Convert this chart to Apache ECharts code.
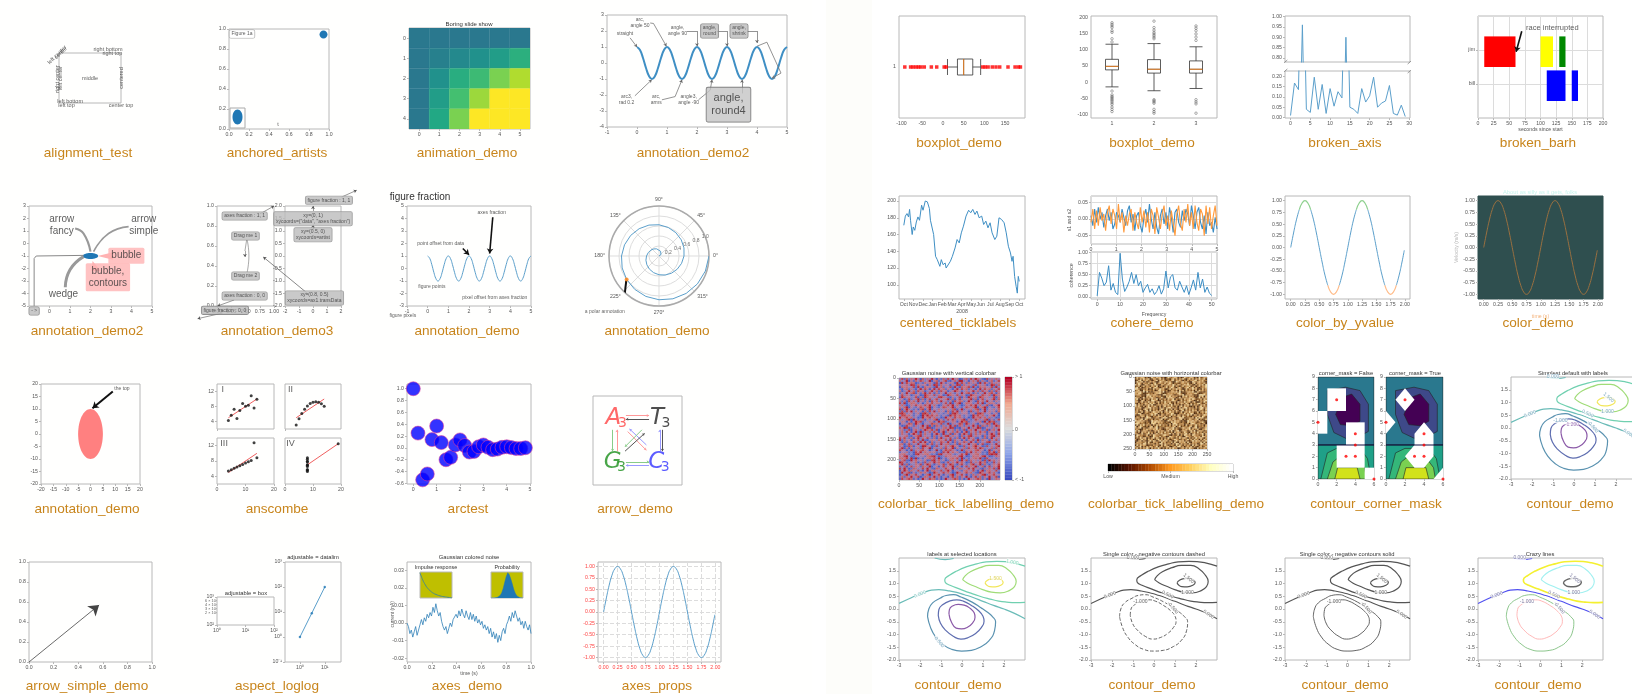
<!DOCTYPE html>
<html lang="en">
<head>
<meta charset="UTF-8">
<title>gallery</title>
<script src="https://cdn.jsdelivr.net/npm/echarts@6/dist/echarts.min.js"></script>
<style>
html,body{margin:0;padding:0;background:#fff;overflow:hidden}
#main{width:1632px;height:694px;filter:blur(0.65px)}
</style>
</head>
<body>
<div id="main"></div>
<script>
// ---- data ----
var cosT = [0,.1,.2,.3,.4,.5,.6,.7,.8,.9,1,1.1,1.2,1.3,1.4,1.5,1.6,1.7,1.8,1.9,2,2.1,2.2,2.3,2.4,2.5,2.6,2.7,2.8,2.9,3,3.1,3.2,3.3,3.4,3.5,3.6,3.7,3.8,3.9,4,4.1,4.2,4.3,4.4,4.5,4.6,4.7,4.8,4.9,5];
var cosV = [1,.81,.31,-.31,-.81,-1,-.81,-.31,.31,.81,1,.81,.31,-.31,-.81,-1,-.81,-.31,.31,.81,1,.81,.31,-.31,-.81,-1,-.81,-.31,.31,.81,1,.81,.31,-.31,-.81,-1,-.81,-.31,.31,.81,1,.81,.31,-.31,-.81,-1,-.81,-.31,.31,.81,1];
var sineT = [0,.05,.1,.15,.2,.25,.3,.35,.4,.45,.5,.55,.6,.65,.7,.75,.8,.85,.9,.95,1,1.05,1.1,1.15,1.2,1.25,1.3,1.35,1.4,1.45,1.5,1.55,1.6,1.65,1.7,1.75,1.8,1.85,1.9,1.95,1.99];
var sineV = [0,.31,.59,.81,.95,1,.95,.81,.59,.31,0,-.31,-.59,-.81,-.95,-1,-.95,-.81,-.59,-.31,0,.31,.59,.81,.95,1,.95,.81,.59,.31,0,-.31,-.59,-.81,-.95,-1,-.95,-.81,-.59,-.31,-.06];

var slideRows = [[.4,.4,.4,.4,.4,.4],[.4,.43,.47,.5,.55,.63],[.4,.5,.62,.68,.8,.88],[.4,.55,.7,.85,1,1],[.4,.6,.8,1,1,1]];

var polarR = [0,.025,.05,.075,.1,.125,.15,.175,.2,.225,.25,.275,.3,.325,.35,.375,.4,.425,.45,.475,.5,.525,.55,.575,.6,.625,.65,.675,.7,.725,.75,.775,.8,.825,.85,.875,.9,.925,.95,.975,1];
var polarA = [0,18,36,54,72,90,108,126,144,162,180,198,216,234,252,270,288,306,324,342,360,18,36,54,72,90,108,126,144,162,180,198,216,234,252,270,288,306,324,342,360];

var ansX = [10,8,13,9,11,14,6,4,12,7,5];
var ansI = [8.04,6.95,7.58,8.81,8.33,9.96,7.24,4.26,10.84,4.82,5.68];
var ansII = [9.14,8.14,8.74,8.77,9.26,8.10,6.13,3.10,9.13,7.26,4.74];
var ansIII = [7.46,6.77,12.74,7.11,7.81,8.84,6.08,5.39,8.15,6.42,5.73];
var ansIVx = [8,8,8,8,8,8,8,19,8,8,8];
var ansIV = [6.58,5.76,7.71,8.84,8.47,7.04,5.25,12.5,5.56,7.91,6.89];

var arcT = [0,.2,.4,.6,.8,1,1.2,1.4,1.6,1.8,2,2.2,2.4,2.6,2.8,3,3.2,3.4,3.6,3.8,4,4.2,4.4,4.6,4.8];
var arcV = [1,.25,-.54,-.44,.14,.37,.09,-.2,-.16,.05,.135,.04,-.07,-.06,.02,.05,.01,-.03,-.02,.01,.02,.005,-.01,-.01,.003];

var noiseV = [0,-.002,-.006,-.004,-.008,-.005,-.002,-.007,-.004,-.001,.002,-.001,.003,.001,.005,.003,.006,.004,.009,.006,.011,.007,.004,.006,.001,-.002,-.004,-.002,-.006,-.003,0,-.002,.002,.001,.005,.003,.007,.004,.008,.005,.003,.007,.004,.002,.006,.002,.005,.001,.004,0,.002,-.001,.001,-.003,-.001,-.004,-.002,-.006,-.003,-.008,-.005,-.009,-.006,-.011,-.007,-.01,-.005,-.003,-.006,-.001,.001,.004,.001,.006,.003,.007,.004,.001,.003,-.001,.001,-.003,.001,-.002,-.004,-.001,-.006];
var impulseV = [1,.72,.52,.37,.27,.19,.14,.1,.07,.05,.035,.02,.01];
var probV = [0,0,0,.01,.02,.04,.1,.2,.38,.62,.85,1,.92,.75,.55,.33,.18,.08,.03,.01,0,0];
var axLogY = [1,9,100];
var axLogX = [1,3,10];

var boxH = [[11,35,50,72,91]];
var boxHOut = [-92,-78,-72,-65,-59,-53,-45,-28,-15,3,8,96,102,109,119,128,137,157,174,182,187];
var boxCats = ['1','2','3'];
var boxV = [[-15,38,49,71,118],[-27,28,40,70,120],[-20,28,40,66,110]];
var boxOut1 = [-28,-40,-45,-48,-52,-56,-60,-65,-70,-78,-85,-92,125,135,155,160,170,175,180,185];
var boxOut2 = [-55,-58,-62,-66,-85,-92,-97,135,140,145,150,155,162,170,190];
var boxOut3 = [-55,-62,-68,-97,130,140,150,160,168,175];

var brokenV = [.01,.167,.135,.96,.04,.025,.195,.04,.16,.02,.14,.055,.125,.095,.9,.05,.04,.02,.14,.075,.105,.195,.05,.07,.08,.155,.02,.012,.06,.005];
var barhJim = [[10,50],[100,20],[130,10]];
var barhBill = [[110,30],[150,10]];
var monthNames = ['Oct','Nov','Dec','Jan','Feb','Mar','Apr','May','Jun','Jul','Aug','Sep','Oct'];
var priceT = [0,.16,.33,.49,.6,.7,.87,.98,1.14,1.3,1.47,1.63,1.85,2,2.23,2.45,2.66,2.77,2.93,3.1,3.3,3.48,3.64,3.75,3.9,4.08,4.3,4.4,4.6,4.84,5.05,5.33,5.54,5.76,5.98,6.2,6.47,6.74,6.96,7.17,7.4,7.6,7.83,8.1,8.3,8.53,8.75,8.97,9.18,9.46,9.67,9.9,10.16,10.43,10.65,10.87,11.09,11.25,11.36,11.52,11.68,11.8,11.9,12];
var priceV = [171,182,185,181,190,177,160,169,165,175,181,177,195,189,200,199,191,177,179,160,134,130,131,122,130,124,126,120,122,128,134,144,154,150,162,170,182,189,186,190,184,188,180,182,172,176,168,174,162,154,158,180,178,174,162,146,138,128,134,110,98,90,110,104];

var cohereA = [.01,-.02,.03,-.01,.035,0,.02,-.025,.01,.03,-.005,.02,-.03,-.015,.02,.01,-.01,.03,.005,-.02,.025,.04,-.01,.015,-.035,.01,.02,-.02,-.04,.005,.03,-.01,.045,0,-.03,.02,-.025,-.045,.01,.03,-.015,.02,-.03,.035,.005,-.04,.02,.03,-.01,-.025,.025,-.005,.03,.015,-.02,.04,.01,-.03,.02,.035,-.01,-.03,.01,-.045,.02,-.02,-.01,-.04,.005,-.03];
var cohereB = [-.01,.03,-.03,.025,-.02,.035,-.005,.015,-.035,.02,.04,-.015,.03,.01,-.03,.045,-.01,.02,-.04,.01,-.02,.015,.03,-.035,.02,-.01,-.03,.035,-.01,.025,-.025,.02,-.04,.03,.01,-.045,.035,.005,-.03,.015,.04,-.02,.01,-.035,.025,.03,-.05,.015,.04,-.015,-.035,.03,-.01,.045,-.02,.02,-.03,.04,-.01,-.035,.03,.015,-.05,.04,-.015,.035,-.03,.01,.04,-.02];
var cohFreq = [0,1,2,3,4,5,6,7,8,9,10,11,12,13,14,15,16,17,18,19,20,21,22,23,24,25,26,27,28,29,30,31,32,33,34,35,36,37,38,39,40,41,42,43,44,45,46,47,48,49,50];
var cohVal = [.02,.55,.42,.25,.33,.7,.15,.3,.1,.05,.98,.4,.12,.22,.35,.55,.3,.5,.25,.35,.1,.2,.28,.1,.18,.05,.12,.25,.06,.18,.58,.2,.45,.5,.2,.15,.35,.22,.1,.25,.05,.2,.38,.15,.55,.2,.4,.1,.22,.08,.03];

var noiseRows = [
'38172649507263940517283946015728396410825374','92504738162057138624905173862490571368104729','17463082951364092851736409285173640928576013',
'60298173546298173540629817354062981735418263','43819207568192075643819207564381920756209471','71620493850493857162049385716204938571638205',
'25937184607184602593718460259371846025974136','84061529373152937840615293784061529378051692','19753826402640197538264019753826401975328647',
'52380619746197452380619745238061974523896410','36917048258253691704825369170482536917540281','08472935163516084729351608472935160847613952',
'65148290379037651482903765148290376514027483','93720164856485937201648593720164859372481056','21486379057905214863790521486379052148736915',
'78059143624362780591436278059143627805962140','49263507181849263507184926350718492635081472','13608972455136089724513608972451360897164523',
'85731420969685731420968573142096857314693028','30195684727230195684723019568472301956285741','62479051383862479051386247905138624790951360',
'97812365040497812365049781236504978123547092','05348719626205348719620534871962053487628139','51624938070751624938075162493807516249730185',
'74980153262674980153267498015326749801046392','28057394616128057394612805739461280573159748','16372840591916372840591637284059163728470635',
'40596182737340596182734059618273405961923807','89263407151589263407158926340715892634571046','31705926484831705926483170592648317059284610',
'64829173505064829173506482917350648291036527','07153862949407153862940715386294071538941263','52936704810152936704815293670481529367126084',
'96401825373796401825379640182537964018705319','23718459060623718459062371845906237184683972','78540291636378540291637854029163785402392058',
'12085937464612085937461208593746120859071436','45673120898945673120894567312089456731248590','89301275646489301275648930127564893012534167',
'31467582909031467582903146758290314675910832','26094817352608194735268109473526018947250176','70318264957103826495730182649570318269841253',
'59172036485917023648159720364815972068314792','04826591730482659137048265913704826517629035','83950176248395107624853951762485935106274819',
'16743820591674382059617438205916743826950342','47201963584720196358472109635847201936805127','91658340279165834027916583042791658304172658',
'30582716493058271649358027164935802761492603','68714029538671402953687140295368714092375184'];
var barSteps = [0,.25,.5,.75,1,1.25,1.5,1.75,2,2.25,2.5,2.75,3,3.25,3.5,3.75,4,4.25,4.5,4.75,5,5.25,5.5,5.75,6,6.25,6.5,6.75,7,7.25,7.5,7.75,8,8.25,8.5,8.75,9];

// contour levels, traced by eye in x/y
var cNeg15 = [[-.62,-.2],[-.6,-.02],[-.45,.12],[-.18,.18],[.1,.15],[.38,.03],[.58,-.15],[.62,-.32],[.5,-.55],[.25,-.72],[-.02,-.78],[-.28,-.75],[-.5,-.52],[-.62,-.2]];
var cNeg10 = [[-1.13,-.25],[-1.1,-.02],[-.95,.15],[-.57,.32],[-.25,.36],[.06,.31],[.45,.14],[.78,-.06],[1,-.28],[1.05,-.48],[.92,-.73],[.65,-.96],[.3,-1.12],[-.05,-1.18],[-.4,-1.08],[-.8,-.82],[-1.03,-.55],[-1.13,-.25]];
var cNeg05 = [[-1.64,-.3],[-1.58,0],[-1.4,.24],[-1.05,.42],[-.76,.53],[-.4,.56],[-.05,.47],[.48,.27],[.9,.05],[1.2,-.12],[1.45,-.3],[1.6,-.5],[1.55,-.85],[1.28,-1.25],[.86,-1.5],[.45,-1.62],[-.02,-1.65],[-.5,-1.58],[-.89,-1.4],[-1.25,-1.1],[-1.5,-.72],[-1.64,-.3]];
var cZero = [[-3,.22],[-2.6,.37],[-2.2,.52],[-1.8,.65],[-1.45,.74],[-1.1,.76],[-.7,.72],[-.25,.65],[.12,.56],[.5,.46],[1,.3],[1.5,.14],[2,0],[2.5,-.17],[3,-.38]];
var cPos05 = [[3,1.68],[2.45,1.81],[2.05,1.86],[1.66,1.87],[1.15,1.85],[.7,1.77],[.2,1.65],[-.25,1.49],[-.6,1.32],[-.82,1.15],[-.8,1.05],[-.57,.93],[-.1,.78],[.38,.63],[.85,.5],[1.34,.39],[1.75,.31],[2.13,.27],[2.55,.25],[3,.26]];
var cPos10 = [[.03,1.15],[.13,1.28],[.4,1.46],[.86,1.62],[1.3,1.71],[1.75,1.71],[2.15,1.57],[2.45,1.32],[2.58,1.08],[2.5,.88],[2.25,.72],[1.82,.63],[1.4,.66],[1.02,.75],[.6,.89],[.25,1.02],[.03,1.15]];
var cPos15 = [[1.1,1.03],[1.2,1.12],[1.42,1.19],[1.66,1.2],[1.88,1.14],[1.96,1.04],[1.85,.93],[1.58,.87],[1.32,.88],[1.16,.95],[1.1,1.03]];
var cTop = [[-1.3,2],[-.8,1.94],[-.4,1.98]];

var cornerBlue = [[2.95,8.1],[4.5,7.8],[5.4,6.6],[5.4,4.2],[4.5,3.8],[2.95,3.6],[1.7,4.1],[1,5.7],[1,7.8]];
var cornerPurple = [[2.6,7.2],[3.6,7.5],[4.5,6.6],[4.5,5.1],[3.6,4.7],[2.4,4.8],[1.9,5.7]];
var cornerGreen1 = [[.3,0],[1,2.3],[2,2.7],[4.5,2.7],[5.3,1.8],[5.7,0]];
var cornerGreen2 = [[1,0],[1.6,1.5],[2.2,1.9],[4.2,1.9],[5,1],[5.2,0]];
var cornerYellow = [[1.8,0],[2.1,1],[4.2,1],[4.5,0]];
var maskSquare = [[[1,6],[3,6],[3,8],[1,8]],[[0,4],[1,4],[1,6],[0,6]],[[3,3],[5,3],[5,5],[3,5]],[[2,1],[5,1],[5,3],[2,3]],[[5,0],[6,0],[6,1],[5,1]]];
var maskCut = [[[1,7],[2,8],[3,7],[2,6]],[[0,4],[1,5],[0,6]],[[4,5],[3,4],[3,3],[2,2],[3,1],[4,1],[5,2],[5,4]],[[5,0],[6,0],[6,1]]];
var maskedPts = [[2,7],[0,5],[4,4],[4,3],[4,2],[3,2],[6,0]];

// arrow_demo letters and arrows
var dnaLetters = ['A','T','G','C'];
var dnaPos = [[.23,.75],[.72,.75],[.22,.26],[.71,.26]];
var dnaArrows = [[[.37,.78],[.63,.78]],[[.63,.74],[.37,.74]],[[.37,.26],[.63,.26]],[[.63,.22],[.37,.22]],[[.22,.62],[.22,.38]],[[.27,.38],[.27,.62]],[[.75,.38],[.75,.62]],[[.78,.62],[.78,.38]],[[.39,.6],[.6,.39]],[[.6,.45],[.41,.63]],[[.55,.62],[.36,.43]],[[.36,.38],[.58,.58]]];

// ---- plumbing ----
var grid = [], xAxis = [], yAxis = [], series = [], title = [], visualMap = [];
var TICK = '#555', FRAME = '#b8b8b8', FONT = 'Liberation Sans';

function zip(xs, ys) { return xs.map(function (x, i) { return [x, ys[i]]; }); }
function steps(n, d) { var a = []; for (var i = 0; i < n; i++) a.push(i * d); return a; }

function axis(o, k, g) {
    var a = {gridIndex: g, axisLine: {show: false, onZero: false}, splitLine: {show: false}};
    var ticks = o[k + 't'], col = o.tickColor || TICK, f = o[k + 'f'], d = o[k + 'd'];
    if (o[k + 'cat']) {
        a.type = 'category'; a.data = o[k + 'cat'];
        a.axisTick = {length: 2, alignWithLabel: true, lineStyle: {color: FRAME}};
        a.axisLabel = {fontSize: 5.2, color: col, margin: 3, fontFamily: FONT};
    } else {
        a.type = o[k + 'log'] ? 'log' : 'value';
        if (o[k + 'log']) a.logBase = 10;
        a.min = o[k][0]; a.max = o[k][1];
        if (ticks) {
            a.axisTick = {length: 2, customValues: ticks, lineStyle: {color: FRAME}};
            a.axisLabel = {fontSize: 5.2, color: col, margin: 3, fontFamily: FONT, customValues: ticks,
                formatter: f || function (v) { return d === undefined ? String(v) : v.toFixed(d); }};
        } else {
            a.axisTick = {show: false}; a.axisLabel = {show: false};
        }
    }
    if (o.split) a.splitLine = {show: true, lineStyle: {color: '#dcdcdc', width: 1, type: o.split}};
    if (o[k + 'inv']) a.inverse = true;
    if (o[k + 'name']) {
        a.name = o[k + 'name']; a.nameLocation = 'middle'; a.nameGap = o.nameGap || 9;
        a.nameTextStyle = {fontSize: 5.2, color: o[k + 'nameColor'] || '#555', fontFamily: FONT};
    }
    if (o[k + 'pos']) a.position = o[k + 'pos'];
    return a;
}

function panel(l, t, r, b, o) {
    var g = grid.length;
    grid.push({left: l, top: t, width: r - l, height: b - t, show: true, containLabel: false, outerBoundsMode: 'none',
        borderColor: o.frame || FRAME, borderWidth: 1, backgroundColor: o.bg || 'transparent'});
    xAxis.push(axis(o, 'x', g));
    yAxis.push(axis(o, 'y', g));
    return g;
}
function add(s, g) {
    s.xAxisIndex = g; s.yAxisIndex = g; s.silent = true; s.animation = false;
    series.push(s);
    return series.length - 1;
}
function line(g, data, color, width, o) {
    o = o || {};
    return add({type: 'line', data: data, showSymbol: false, smooth: o.smooth || false, clip: o.clip !== false, z: o.z || 3,
        lineStyle: {color: color, width: width, type: o.dash || 'solid', opacity: o.op === undefined ? 1 : o.op}, areaStyle: o.area}, g);
}
function dots(g, data, color, size, o) {
    o = o || {};
    return add({type: 'scatter', data: data, symbol: o.symbol || 'circle', symbolSize: size, clip: o.clip !== false, z: o.z || 4,
        itemStyle: {color: color, borderColor: o.border, borderWidth: o.border ? .7 : 0}}, g);
}
function note(g, x, y, text, o) {
    o = o || {};
    var sz = o.size || 5;
    return add({type: 'scatter', data: [[x, y]], symbolSize: 1, clip: false, z: 6, itemStyle: {color: 'transparent'},
        label: {show: true, position: 'inside', formatter: text, fontSize: sz, color: o.color || '#333', fontFamily: o.font || FONT,
            fontStyle: o.style || 'normal', rotate: o.rot || 0, lineHeight: sz * 1.2, backgroundColor: o.box, borderColor: o.edge, borderWidth: o.edge ? .6 : 0,
            borderRadius: o.box ? 1.5 : 0, padding: o.box ? (o.pad === undefined ? [1, 2] : o.pad) : 0}}, g);
}
function arrow(g, pts, color, width, head) {
    var last = pts.slice(-2);
    function seg(p, sym) {
        add({type: 'lines', coordinateSystem: 'cartesian2d', polyline: p.length > 2, data: [{coords: p}], clip: false, z: 5,
            lineStyle: {color: color, width: width, opacity: 1}, symbol: sym, symbolSize: head || 3}, g);
    }
    if (pts.length > 2) seg(pts.slice(0, -1), 'none');
    seg(last, ['none', 'arrow']);
}
function shapes(g, polys, fills, stroke, lw, dash) {
    return add({type: 'custom', coordinateSystem: 'cartesian2d', clip: true, z: 2, data: polys.map(function (p, i) { return [i]; }),
        renderItem: function (params, api) {
            var i = api.value(0);
            return {type: 'polygon', shape: {points: polys[i].map(function (p) { return api.coord(p); })},
                style: {fill: Array.isArray(fills) ? fills[i] : fills, stroke: stroke || null, lineWidth: lw || 0, lineDash: dash}};
        }}, g);
}
function ellipses(g, list, color) {
    return add({type: 'custom', coordinateSystem: 'cartesian2d', clip: false, z: 3, data: list.map(function (p, i) { return [i]; }),
        renderItem: function (params, api) {
            var e = list[api.value(0)], c = api.coord([e[0], e[1]]), s = api.size([e[2], e[3]]);
            return {type: 'ellipse', shape: {cx: c[0], cy: c[1], rx: s[0] / 2, ry: s[1] / 2}, style: {fill: color}};
        }}, g);
}
// matrix of values drawn as cells, colours come from a visualMap
function cells(g, rows, dx, dy, x0, y0, colors, vmax) {
    var data = [];
    rows.forEach(function (row, r) {
        var vals = typeof row === 'string' ? row.split('').map(Number) : row;
        vals.forEach(function (v, c) { data.push([x0 + c * dx, y0 + r * dy, v]); });
    });
    var idx = add({type: 'custom', coordinateSystem: 'cartesian2d', clip: true, z: 2, data: data, encode: {x: 0, y: 1},
        renderItem: function (params, api) {
            var a = api.coord([api.value(0), api.value(1)]), b = api.coord([api.value(0) + dx, api.value(1) + dy]);
            var c = api.visual('color');
            return {type: 'rect', shape: {x: Math.min(a[0], b[0]), y: Math.min(a[1], b[1]), width: Math.abs(b[0] - a[0]), height: Math.abs(b[1] - a[1])},
                style: {fill: c, stroke: c, lineWidth: .3}};
        }}, g);
    visualMap.push({type: 'continuous', show: false, seriesIndex: idx, dimension: 2, min: 0, max: vmax, inRange: {color: colors}});
}
function text(x, y, s, size, color, o) {
    o = o || {};
    title.push({text: s, left: x, top: y, textAlign: o.align || 'center', textVerticalAlign: 'middle', padding: 0,
        textStyle: {fontSize: size, color: color, fontWeight: 'normal', fontFamily: o.font || FONT}});
}
function caption(x, y, s) { text(x, y, s, 13.6, '#c8851c', {font: 'Liberation Sans'}); }

var oneTicks = [0, .2, .4, .6, .8, 1];
var BLUE = '#5b9fcb', VIRIDIS = ['#440154','#482475','#414487','#355f8d','#2a788e','#21918c','#22a884','#44bf70','#7ad151','#bddf26','#fde725'];
var g;

// the texture rows line up badly in columns, rotate each one
var speckle = noiseRows.map(function (s, r) { var k = (r * 17) % s.length; return s.slice(k) + s.slice(0, k); });

// ---- left half, row 1 ----
g = panel(59, 53, 121, 103, {x: [0, 1], y: [0, 1]});
note(g, .79, 1.08, 'right bottom', {size: 5.5}); note(g, .86, 1.0, 'right top', {size: 5.5});
note(g, .5, .5, 'middle', {size: 5.5});
note(g, .18, .04, 'left bottom', {size: 5.5}); note(g, .12, -.04, 'left top', {size: 5.5});
note(g, 1, -.04, 'center top', {size: 5.5});
note(g, -.03, .96, 'left center', {size: 5.5, rot: 45}); note(g, .03, 1.0, 'center', {size: 5.5, rot: 45});
note(g, -.03, .48, 'right center', {size: 5.5, rot: 90}); note(g, .03, .5, 'left center', {size: 5.5, rot: 90});
note(g, 1, .5, 'centered', {size: 5.5, rot: 90});
caption(88, 153, 'alignment_test');

g = panel(229, 29, 329, 129, {x: [0, 1], y: [0, 1], xt: oneTicks, yt: oneTicks, xd: 1, yd: 1});
shapes(g, [[[.01, .01], [.16, .01], [.16, .21], [.01, .21]]], 'none', '#aaa', 1);
ellipses(g, [[.085, .12, .1, .15], [.945, .945, .08, .08]], '#1f77b4');
note(g, .13, .95, 'Figure 1a', {box: '#fff', edge: '#999'});
note(g, .49, .05, 't', {size: 5.5});
caption(277, 153, 'anchored_artists');

g = panel(409, 28, 530, 129, {x: [-.5, 5.5], y: [-.5, 4.5], xt: [0, 1, 2, 3, 4, 5], yt: [0, 1, 2, 3, 4], yinv: true});
cells(g, slideRows, 1, 1, -.5, -.5, VIRIDIS, 1);
text(469, 24, 'Boring slide show', 6, '#333');
caption(467, 153, 'animation_demo');

g = panel(607, 15, 787, 127, {x: [-1, 5], y: [-4, 3], xt: [-1, 0, 1, 2, 3, 4, 5], yt: [-4, -3, -2, -1, 0, 1, 2, 3]});
line(g, zip(cosT, cosV), '#3f8fc4', 2, {smooth: true});
note(g, .1, 2.5, 'arc,\nangle 50'); note(g, -.4, 1.85, 'straight'); note(g, 1.35, 2, 'angle,\nangle 90');
note(g, 2.42, 2, 'angle,\nround', {box: '#bbb', edge: '#666'}); note(g, 3.4, 2, 'angle,\nshrink', {box: '#bbb', edge: '#666'});
note(g, -.35, -2.3, 'arc3,\nrad 0.2'); note(g, .64, -2.3, 'arc,\narms'); note(g, 1.72, -2.3, 'angle3,\nangle -90');
note(g, 3.05, -2.6, 'angle,\nround4', {size: 11, box: '#c4c4c4', edge: '#555', pad: [4, 5]});
arrow(g, [[-.23, 1.57], [0, 1]], '#666', .7);
arrow(g, [[.44, 2.5], [.55, 2.47], [.98, 1.05]], '#666', .7);
arrow(g, [[1.66, 2], [2, 2], [2, 1.05]], '#666', .7);
arrow(g, [[2.66, 2], [3, 2], [3, 1.05]], '#666', .7);
arrow(g, [[3.67, 2], [4, 2], [4, 1.25]], '#666', .7);
arrow(g, [[-.07, -2.05], [.49, -1.05]], '#666', .7);
arrow(g, [[.83, -2.3], [1.27, -2.1], [1.5, -1.05]], '#666', .7);
arrow(g, [[2.05, -2.3], [2.44, -1.7], [2.5, -1.05]], '#666', .7);
arrow(g, [[3.5, -1.9], [3.5, -1.05]], '#666', .7);
arrow(g, [[4, 1.05], [4.33, 1.3], [4.8, -.63], [4.5, -.95]], '#777', .8);
caption(693, 153, 'annotation_demo2');

// ---- left half, row 2 ----
g = panel(29, 206, 152, 306, {x: [-1, 5], y: [-5, 3], xt: [0, 1, 2, 3, 4, 5], yt: [-5, -4, -3, -2, -1, 0, 1, 2, 3]});
line(g, [[1.25, 1.2], [1.66, .8], [2, -.65]], '#999', 2.2, {smooth: true, clip: false});
line(g, [[3.86, 1.35], [2.88, .8], [2.15, -.65]], '#999', 1.6, {smooth: true, clip: false});
line(g, [[.77, -3.5], [1, -2.1], [1.66, -1.05]], '#999', 3, {smooth: true, clip: false});
line(g, [[-.75, -5], [-.75, -1.2], [-.65, -1], [1.66, -.95]], '#888', 1, {clip: false});
shapes(g, [[[2.35, -1], [3.1, -.7], [3.1, -1.3]], [[2.1, -1.4], [2.05, -2.2], [2.5, -2.2]]], '#ffb3b3');
ellipses(g, [[2, -1, .75, .48]], '#1f77b4');
note(g, .6, 1.5, 'arrow\nfancy', {size: 10}); note(g, 4.6, 1.5, 'arrow\nsimple', {size: 10});
note(g, 3.75, -.97, 'bubble', {size: 10, box: '#ffb3b3', pad: [2, 3]});
note(g, 2.85, -2.7, 'bubble,\ncontours', {size: 10, box: '#ffb3b3', pad: [2, 3]});
note(g, .68, -4.05, 'wedge', {size: 10});
note(g, -.75, -5.4, '- >', {box: '#bbb', edge: '#777'});
caption(87, 331, 'annotation_demo2');

g = panel(217, 206, 274, 306, {x: [0, 1], y: [0, 1], xt: [0, .25, .5, .75, 1], yt: oneTicks, xd: 2, yd: 1});
note(g, .485, .9, 'axes fraction : 1, 1', {box: '#bbb', edge: '#888'});
note(g, .5, .7, 'Drag me 1', {box: '#bbb', edge: '#888'}); note(g, .5, .3, 'Drag me 2', {box: '#bbb', edge: '#888'});
note(g, .485, .1, 'axes fraction : 0, 0', {box: '#bbb', edge: '#888'});
note(g, .14, -.043, 'figure fraction : 0, 0', {box: '#bbb', edge: '#666'});
arrow(g, [[.75, .92], [1, 1]], '#555', .6);
arrow(g, [[.52, .66], [.49, .55], [.49, .49]], '#555', .5);
line(g, [[.53, .66], [.56, .5], [.53, .34]], '#555', .5, {smooth: true});
arrow(g, [[.3, .06], [.01, 0]], '#555', .6);
arrow(g, [[.1, -.07], [-.34, -.127]], '#555', .6);
g = panel(285, 206, 341, 306, {x: [-2, 2], y: [-2, 2], xt: [-2, -1, 0, 1, 2], yt: [-2, -1.5, -1, -.5, 0, .5, 1, 1.5, 2], yd: 1});
note(g, 1.14, 2.23, 'figure fraction : 1, 1', {box: '#bbb', edge: '#888'});
note(g, 0, 1.49, 'xy=(0, 1)\nxycoords=("data", "axes fraction")', {box: '#bbb', edge: '#888'});
note(g, 0, .85, 'xy=(0.5, 0)\nxycoords=artist', {box: '#bbb', edge: '#888'});
note(g, .1, -1.68, 'xy=(0.8, 0.5)\nxycoords=ax1.transData', {box: '#bbb', edge: '#888'});
arrow(g, [[2.05, 2.36], [3.12, 2.63]], '#555', .6);
arrow(g, [[0, 1.8], [0, 2]], '#555', .6);
arrow(g, [[0, 1.05], [0, 1.25]], '#555', .6);
arrow(g, [[-.45, -1.47], [-3.55, -.04]], '#555', .7);
caption(277, 331, 'annotation_demo3');

g = panel(407, 206, 531, 306, {x: [-1, 5], y: [-3, 5], xt: [-1, 0, 1, 2, 3, 4, 5], yt: [-3, -2, -1, 0, 1, 2, 3, 4, 5]});
line(g, zip(cosT, cosV), BLUE, 1, {smooth: true});
note(g, 3.1, 4.5, 'axes fraction'); note(g, .63, 2, 'point offset from data');
note(g, .2, -1.47, 'figure points'); note(g, 3.25, -2.33, 'pixel offset from axes fraction');
note(g, -1.2, -3.8, 'figure pixels');
arrow(g, [[3.15, 4.1], [3, 1.2]], '#111', 1.6, 5);
arrow(g, [[1.7, 1.6], [2, 1.1]], '#111', 1.6, 5);
text(420, 197, 'figure fraction', 10, '#333');
caption(467, 331, 'annotation_demo');

var polarSeries = {type: 'line', coordinateSystem: 'polar', polarIndex: 0, data: zip(polarR, polarA), showSymbol: false, clip: false, silent: true, animation: false, lineStyle: {color: BLUE, width: 1}, z: 3};
series.push(polarSeries);
function polarNote(r, a, s) {
    series.push({type: 'scatter', coordinateSystem: 'polar', polarIndex: 0, data: [[r, a]], symbolSize: 1, silent: true, animation: false, clip: false, itemStyle: {color: 'transparent'},
        label: {show: true, position: 'inside', formatter: s, fontSize: 5, color: '#444', fontFamily: FONT}});
}
[.2, .4, .6, .8, 1].forEach(function (r) { polarNote(r, 22.5, r.toFixed(1)); });
polarNote(1.56, 226, 'a polar annotation');
series.push({type: 'line', coordinateSystem: 'polar', polarIndex: 0, data: [[1.24, 234.8], [.82, 217]], showSymbol: false, clip: false, silent: true, animation: false, lineStyle: {color: '#111', width: 2}, z: 4});
series.push({type: 'scatter', coordinateSystem: 'polar', polarIndex: 0, data: [[.8, 216]], symbolSize: 4, silent: true, animation: false, clip: false, itemStyle: {color: '#ff7f0e'}, z: 5});
caption(657, 331, 'annotation_demo');

// ---- left half, row 3 ----
var twenty = [-20, -15, -10, -5, 0, 5, 10, 15, 20];
g = panel(41, 384, 140, 484, {x: [-20, 20], y: [-20, 20], xt: twenty, yt: twenty});
ellipses(g, [[0, 0, 10, 20]], '#ff8080');
arrow(g, [[9, 17], [.8, 10.3]], '#111', 2, 6);
note(g, 12.7, 18, 'the top');
caption(87, 509, 'annotation_demo');

var ansPanels = [[217, 384, 274, 429, zip(ansX, ansI), 'I', [4, 14]], [285, 384, 341, 429, zip(ansX, ansII), 'II', [4, 14]], [217, 438, 274, 484, zip(ansX, ansIII), 'III', [4, 14]], [285, 438, 341, 484, zip(ansIVx, ansIV), 'IV', [8, 19]]];
ansPanels.forEach(function (p, i) {
    var gi = panel(p[0], p[1], p[2], p[3], {x: [0, 20], y: [2, 14], xt: i > 1 ? [0, 10, 20] : [0.0001], yt: i % 2 ? [0.0001] : [4, 8, 12], xf: i > 1 ? null : function () { return ''; }, yf: i % 2 ? function () { return ''; } : null});
    dots(gi, p[4], '#111', 3);
    line(gi, [[p[6][0], 3 + .5 * p[6][0]], [p[6][1], 3 + .5 * p[6][1]]], '#f06060', 1);
    note(gi, p[5].length > 2 ? 2.5 : 2, 12.6, p[5], {size: 9});
});
caption(277, 509, 'anscombe');

g = panel(407, 384, 531, 484, {x: [-.27, 5.04], y: [-.61, 1.08], xt: [0, 1, 2, 3, 4, 5], yt: [-.6, -.4, -.2, 0, .2, .4, .6, .8, 1], yd: 1});
dots(g, zip(arcT, arcV), '#0000ff', 14, {border: '#e0409a', clip: false});
caption(468, 509, 'arctest');

g = panel(593, 396, 682, 485, {x: [0, 1], y: [0, 1]});
var dnaColors = ['#f44', '#222', '#1a8f1a', '#33f'];
var arrowCols = ['#f99', '#555', '#8c8', '#99f', '#8c8', '#f99', '#99f', '#555', '#f99', '#99f', '#8c8', '#555'];
dnaArrows.forEach(function (p, i) { arrow(g, p, arrowCols[i], 1, 2.5); });
dnaLetters.forEach(function (s, i) {
    note(g, dnaPos[i][0], dnaPos[i][1], s, {size: 23, color: dnaColors[i], style: 'italic', font: 'DejaVu Sans'});
    note(g, dnaPos[i][0] + .1, dnaPos[i][1] - .06, '3', {size: 14, color: dnaColors[i], font: 'DejaVu Sans'});
});
caption(635, 509, 'arrow_demo');

// ---- left half, row 4 ----
g = panel(29, 562, 152, 662, {x: [0, 1], y: [0, 1], xt: oneTicks, yt: oneTicks, xd: 1, yd: 1});
arrow(g, [[0, 0], [.57, .57]], '#444', .8, 10);
caption(87, 686, 'arrow_simple_demo');

var decades = function (v) { return {0.1: '10⁻¹', 1: '10⁰', 10: '10¹', 100: '10²', 1000: '10³'}[v] || ''; };
g = panel(217, 597, 274, 625, {x: [1, 100], y: [100, 1000], xlog: true, ylog: true, xt: [1, 10, 100], yt: [100, 1000], xf: decades, yf: decades});
note(g, .62, 720, '6 × 10²', {size: 3.8}); note(g, .62, 530, '4 × 10²', {size: 3.8}); note(g, .62, 390, '3 × 10²', {size: 3.8}); note(g, .62, 260, '2 × 10²', {size: 3.8});
text(246, 593, 'adjustable = box', 5.8, '#333');
g = panel(285, 562, 341, 662, {x: [.25, 45], y: [.1, 1000], xlog: true, ylog: true, xt: [1, 10], yt: [.1, 1, 10, 100, 1000], xf: decades, yf: decades});
line(g, zip(axLogX, axLogY), BLUE, 1);
dots(g, zip(axLogX, axLogY), '#1f77b4', 2.5);
text(313, 557, 'adjustable = datalim', 5.8, '#333');
caption(277, 686, 'aspect_loglog');

g = panel(407, 562, 531, 662, {x: [0, 1], y: [-.0222, .0348], xt: [0, .2, .4, .6, .8, 1], yt: [-.02, -.01, 0, .01, .02, .03], xd: 1, yd: 2, xname: 'time (s)'});
line(g, zip(steps(87, 1 / 86), noiseV), '#2f80b8', .8);
note(g, -.115, .005, 'current (nA)', {rot: 90});
text(469, 557, 'Gaussian colored noise', 5.8, '#333');
g = panel(420, 572, 452, 598, {x: [0, 1], y: [0, 1.03], bg: '#bfbf00'});
line(g, zip(steps(13, 1 / 12), impulseV), '#4a8a8a', 1, {smooth: true});
text(436, 568, 'Impulse response', 5.4, '#333');
g = panel(491, 572, 523, 598, {x: [0, 1], y: [0, 1.03], bg: '#bfbf00'});
line(g, zip(steps(22, 1 / 21), probV), '#1f77b4', .5, {area: {color: '#1f77b4', opacity: 1}});
text(507, 568, 'Probability', 5.4, '#333');
caption(467, 686, 'axes_demo');

var quarter = [-1, -.75, -.5, -.25, 0, .25, .5, .75, 1];
var sineX = [0, .25, .5, .75, 1, 1.25, 1.5, 1.75, 2];
g = panel(598, 562, 721, 662, {x: [-.1, 2.1], y: [-1.1, 1.1], xt: sineX, yt: quarter, xd: 2, yd: 2, split: 'dashed', tickColor: '#f44'});
line(g, zip(sineT, sineV), BLUE, 1, {smooth: true});
caption(657, 686, 'axes_props');

// ---- right half, row 1 ----
g = panel(899, 16, 1025, 118, {x: [-106, 198], xt: [-100, -50, 0, 50, 100, 150], ycat: ['1']});
add({type: 'boxplot', data: boxH, boxWidth: [16, 16], itemStyle: {color: '#fff', borderColor: '#333', borderWidth: .8}, z: 3}, g);
dots(g, [[50, 0]], '#ff7f0e', [1, 16], {symbol: 'rect', z: 5});
dots(g, boxHOut.map(function (v) { return [v, 0]; }), '#f00', 3.5, {symbol: 'rect'});
caption(959, 143, 'boxplot_demo');

g = panel(1091, 16, 1217, 118, {xcat: boxCats, y: [-112, 206], yt: [-100, -50, 0, 50, 100, 150, 200]});
add({type: 'boxplot', data: boxV, boxWidth: [13, 13], itemStyle: {color: '#fff', borderColor: '#333', borderWidth: .8}, z: 3}, g);
dots(g, boxV.map(function (b, i) { return [i, b[2]]; }), '#ff7f0e', [13, 1], {symbol: 'rect', z: 5});
[boxOut1, boxOut2, boxOut3].forEach(function (arr, i) {
    add({type: 'scatter', data: arr.map(function (v) { return [i, v]; }), symbolSize: 2.5, z: 4, itemStyle: {color: 'transparent', borderColor: '#555', borderWidth: .6}}, g);
});
caption(1152, 143, 'boxplot_demo');

var brokenX = steps(30, 1);
g = panel(1285, 16, 1410, 62, {x: [-1.4, 30.2], y: [.78, 1.003], yt: [.8, .85, .9, .95, 1], yd: 2});
line(g, zip(brokenX, brokenV), BLUE, 1);
line(g, [[-2, .77], [-.8, .79]], '#777', .7, {clip: false});
line(g, [[29.6, .77], [30.8, .79]], '#777', .7, {clip: false});
g = panel(1285, 71, 1410, 118, {x: [-1.4, 30.2], y: [-.002, .225], xt: [0, 5, 10, 15, 20, 25, 30], yt: [0, .05, .1, .15, .2], yd: 2});
line(g, zip(brokenX, brokenV), BLUE, 1);
line(g, [[-2, .215], [-.8, .235]], '#777', .7, {clip: false});
line(g, [[29.6, .215], [30.8, .235]], '#777', .7, {clip: false});
caption(1345, 143, 'broken_axis');

function rects(list, y0, h) { return list.map(function (b) { return [[b[0], y0], [b[0] + b[1], y0], [b[0] + b[1], y0 + h], [b[0], y0 + h]]; }); }
g = panel(1478, 16, 1603, 118, {x: [0, 200], y: [5, 35], xt: [0, 25, 50, 75, 100, 125, 150, 175, 200], yt: [15, 25], yf: function (v) { return v == 25 ? 'jim' : 'bill'; }, split: 'solid', xname: 'seconds since start'});
shapes(g, rects(barhJim, 20, 9), ['#f00', '#ff0', '#080']);
shapes(g, rects(barhBill, 10, 9), '#00f');
note(g, 119, 31.5, 'race interrupted', {size: 7.5});
arrow(g, [[70, 30.5], [61, 24.5]], '#111', 1.6, 5);
caption(1538, 143, 'broken_barh');

// ---- right half, row 2 ----
g = panel(899, 196, 1025, 299, {x: [-.5, 12.6], y: [83, 206], xt: steps(13, 1), yt: [100, 120, 140, 160, 180, 200], xf: function (v) { return monthNames[v]; }, xname: '2008', nameGap: 10});
line(g, zip(priceT, priceV), '#3f8fc4', 1);
caption(958, 323, 'centered_ticklabels');

var cohT = steps(70, 5 / 69);
g = panel(1091, 196, 1217, 244, {x: [0, 5], y: [-.075, .069], xt: [0, 1, 2, 3, 4, 5], yt: [-.05, 0, .05], yd: 2, split: 'solid', yname: 's1 and s2', nameGap: 13});
line(g, zip(cohT, cohereA), '#3b8dc4', 1.1);
line(g, zip(cohT, cohereB), '#ff9a3c', 1.1);
g = panel(1091, 252, 1217, 299, {x: [-2.7, 52.3], y: [-.05, 1.01], xt: [0, 10, 20, 30, 40, 50], yt: [0, .25, .5, .75, 1], yd: 2, split: 'solid', xname: 'Frequency', yname: 'coherence', nameGap: 13});
line(g, zip(cohFreq, cohVal), '#3b8dc4', 1);
caption(1152, 323, 'cohere_demo');

var yval = zip(sineT, sineV);
g = panel(1285, 196, 1410, 299, {x: [-.1, 2.09], y: [-1.1, 1.1], xt: sineX, yt: quarter, xd: 2, yd: 2});
line(g, yval.map(function (p) { return [p[0], Math.abs(p[1]) <= .81 ? p[1] : null]; }), BLUE, 1, {smooth: true});
line(g, yval.map(function (p) { return [p[0], p[1] >= .81 ? p[1] : null]; }), '#8ed08e', 1.2, {smooth: true});
line(g, yval.map(function (p) { return [p[0], p[1] <= -.81 ? p[1] : null]; }), '#ffbb88', 1.2, {smooth: true});
caption(1345, 323, 'color_by_yvalue');

g = panel(1478, 196, 1603, 299, {x: [-.1, 2.09], y: [-1.1, 1.1], xt: sineX, yt: quarter, xd: 2, yd: 2, bg: '#2f4f4f', frame: '#2f4f4f', xname: 'time (s)', xnameColor: '#f4b27a', yname: 'Velocity (m/s)', ynameColor: '#b8b8b8', nameGap: 15});
line(g, zip(sineT, sineV), '#9a7040', 1, {smooth: true});
text(1540, 192, 'About as silly as it gets, folks', 5.8, '#c8f4ee');
caption(1538, 323, 'color_demo');

// ---- right half, row 3 ----
var fifty = [0, 50, 100, 150, 200];
var COOL = ['#3b4cc0', '#8da4e8', '#dcdcdc', '#f0a890', '#b40426'];
var HOT = ['#000', '#5a1500', '#b04a00', '#ff9a20', '#ffd060', '#ffffc0', '#fff'];
var COOLMIX = ['#4a5cc4', '#8a80c0', '#b47aa0', '#c86a70', '#b42030'];
var HOTMIX = ['#4a2a10', '#8a5a28', '#b8864a', '#d8a868', '#f0d8a0'];
g = panel(899, 378, 1000, 480, {x: [0, 250], y: [0, 250], xt: fifty, yt: fifty, yinv: true});
cells(g, speckle, 250 / 44, 5, 0, 0, COOLMIX, 9);
text(949, 373, 'Gaussian noise with vertical colorbar', 5.8, '#333');
g = panel(1005, 377, 1012, 480, {x: [0, 1], y: [0, 36.99], ypos: 'right', yt: [.01, 18, 36.98], yf: function (v) { return v < 1 ? '< -1' : v > 20 ? '> 1' : '0'; }});
cells(g, barSteps.map(function (v) { return [v]; }), 1, 1, 0, 0, COOL, 9);
caption(966, 504, 'colorbar_tick_labelling_demo');

var fifty2 = [0, 50, 100, 150, 200, 250];
g = panel(1135, 377, 1207, 449, {x: [0, 250], y: [0, 250], xt: fifty2, yt: fifty2, yinv: true});
cells(g, speckle.slice().reverse(), 250 / 44, 5, 0, 0, HOTMIX, 9);
text(1171, 373, 'Gaussian noise with horizontal colorbar', 5.8, '#333');
g = panel(1108, 464, 1233, 471, {x: [0, 37], y: [0, 1], xt: [.01, 18.5, 36.99], xf: function (v) { return v < 1 ? 'Low' : v > 20 ? 'High' : 'Medium'; }});
cells(g, [barSteps], 1, 1, 0, 0, HOT, 9);
caption(1176, 504, 'colorbar_tick_labelling_demo');

function corner(l, r, masks, name, tx) {
    var gi = panel(l, 377, r, 479, {x: [0, 6], y: [0, 9], xt: [0, 2, 4, 6], yt: [0, 1, 2, 3, 4, 5, 6, 7, 8, 9]});
    shapes(gi, [[[0, 3], [6, 3], [6, 9], [0, 9]], cornerBlue, cornerPurple, [[0, 0], [6, 0], [6, 3], [0, 3]], cornerGreen1, cornerGreen2, cornerYellow],
        ['#2a788e', '#3e4989', '#440154', '#1fa088', '#35b779', '#7ad151', '#d2e21b'], '#222', .6);
    line(gi, [[0, 3], [6, 3]], '#114', 1.2);
    shapes(gi, masks, '#fff');
    series[series.length - 1].z = 3;
    dots(gi, maskedPts, '#f00', 3);
    text(tx, 373, name, 5.8, '#333');
}
corner(1318, 1374, maskSquare, 'corner_mask = False', 1346);
corner(1386, 1443, maskCut, 'corner_mask = True', 1415);
caption(1376, 504, 'contour_corner_mask');

// ---- contour panels ----
var cx3 = [-3, -2, -1, 0, 1, 2], cy2 = [-2, -1.5, -1, -.5, 0, .5, 1, 1.5];
function contourPanel(l, t, r, b, name, tx, curves, colors, widths, dash) {
    var gi = panel(l, t, r, b, {x: [-3, 3], y: [-2, 2], xt: cx3, yt: cy2, yd: 1});
    curves.forEach(function (c, i) {
        line(gi, c, colors[i], widths[i], {smooth: .5, dash: (dash && i < 2) ? 'dashed' : 'solid'});
    });
    text(tx, t - 4, name, 5.8, '#333');
    return gi;
}
function contourNotes(gi, color) {
    note(gi, -2.1, .55, '0.000', {box: '#fff', color: color, rot: 20, pad: 0});
    note(gi, 2.6, -.21, '0.000', {box: '#fff', color: color, rot: -35, pad: 0});
    note(gi, .65, .56, '0.500', {box: '#fff', color: color, rot: -25, pad: 0});
    note(gi, 1.6, .64, '1.000', {box: '#fff', color: color, pad: 0});
    note(gi, 1.65, 1.2, '1.500', {box: '#fff', color: color, rot: -40, pad: 0});
    note(gi, -.65, .3, '-1.000', {box: '#fff', color: color, pad: 0});
    note(gi, .9, .05, '-0.500', {box: '#fff', color: color, rot: -50, pad: 0});
    note(gi, -1, 2, '0.000', {box: '#fff', color: color, pad: 0});
}
var allSeven = [cNeg15, cNeg10, cNeg05, cZero, cPos05, cPos10, cPos15, cTop];
var sevenCols = ['#8b5aa8', '#5f6eb0', '#5a92b0', '#6bbcb8', '#70d0b0', '#a0dc78', '#f2e65a', '#6bbcb8'];
var sevenW = [1.2, 1.2, 1.2, 1.2, 1.2, 1.2, 1.2, 1.2];

g = contourPanel(1511, 377, 1637, 479, 'Simplest default with labels', 1573, allSeven, sevenCols, sevenW);
note(g, -.1, .12, '-1.200', {box: '#fff', color: '#8b5aa8', pad: 0});
contourNotes(g, '#5a92b0');
caption(1570, 504, 'contour_demo');

g = contourPanel(899, 558, 1025, 660, 'labels at selected locations', 962, allSeven, sevenCols, sevenW);
note(g, 2.4, 1.83, '1.000', {box: '#fff', color: '#70d0b0', rot: -10, pad: 0});
note(g, -2, .58, '0.000', {box: '#fff', color: '#6bbcb8', rot: 20, pad: 0});
note(g, -1.1, -1.28, '-0.500', {box: '#fff', color: '#5a92b0', rot: -50, pad: 0});
note(g, 1.6, 1.18, '1.500', {box: '#fff', color: '#d8cc40', pad: 0});
caption(958, 685, 'contour_demo');

var fiveCurves = [cNeg10, cNeg05, cZero, cPos05, cPos10, cPos15, cTop];
var grayCols = ['#555', '#555', '#555', '#555', '#555', '#555', '#555'];
var grayW = [.9, .9, 1.1, 1.2, 1.2, 1.2, 1];
g = contourPanel(1091, 558, 1217, 660, 'Single color - negative contours dashed', 1154, fiveCurves, grayCols, grayW, true);
contourNotes(g, '#444');
caption(1152, 685, 'contour_demo');
g = contourPanel(1285, 558, 1410, 660, 'Single color - negative contours solid', 1347, fiveCurves, grayCols, grayW);
contourNotes(g, '#444');
caption(1345, 685, 'contour_demo');
g = contourPanel(1478, 558, 1603, 660, 'Crazy lines', 1540, fiveCurves, ['#ffb0b0', '#80c080', '#5050f0', '#f4f030', '#a0f0f0', '#666', '#5050f0'], [.9, .9, 1.1, 1.6, 1.1, 1.4, 1]);
contourNotes(g, '#5a5a8a');
caption(1538, 685, 'contour_demo');

// ---- assemble ----
var chart = echarts.init(document.getElementById('main'), null, {renderer: 'canvas'});
chart.setOption({
    animation: false,
    backgroundColor: '#fff',
    tooltip: {show: false},
    graphic: [
        {type: 'rect', z: -10, shape: {x: 0, y: 0, width: 812, height: 694}, style: {fill: '#fffffe'}},
        {type: 'rect', z: -10, shape: {x: 826, y: 0, width: 46, height: 694}, style: {fill: '#fdfdfa'}}
    ],
    title: title,
    grid: grid,
    xAxis: xAxis,
    yAxis: yAxis,
    polar: [{center: [659, 256], radius: 50}],
    angleAxis: [{polarIndex: 0, type: 'value', min: 0, max: 360, startAngle: 0, clockwise: false, interval: 45,
        axisLine: {lineStyle: {color: '#aaa', width: 1.5}}, axisTick: {show: false},
        axisLabel: {fontSize: 5.2, color: TICK, margin: 4, fontFamily: FONT, formatter: function (v) { return v == 360 ? '' : v + '°'; }},
        splitLine: {show: true, lineStyle: {color: '#ddd'}}}],
    radiusAxis: [{polarIndex: 0, type: 'value', min: 0, max: 1, interval: .2, axisLine: {show: false}, axisTick: {show: false}, axisLabel: {show: false},
        splitLine: {show: true, lineStyle: {color: '#ddd'}}}],
    visualMap: visualMap,
    series: series
});
</script>
</body>
</html>
